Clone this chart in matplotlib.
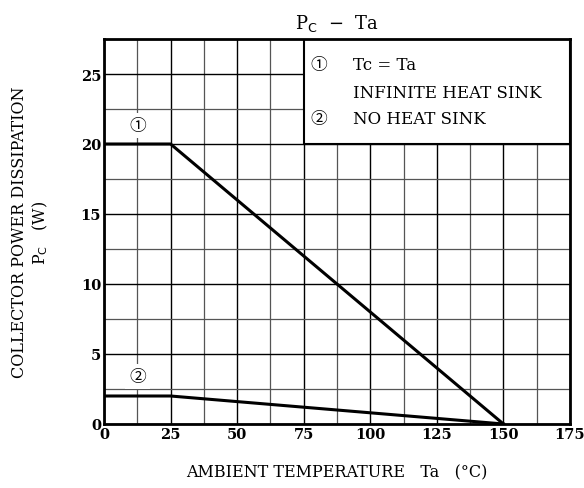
import matplotlib.pyplot as plt
from matplotlib.patches import Rectangle

ta = [0, 25, 150]
pc_infinite = [20, 20, 0]
pc_none = [2, 2, 0]
xticks = [0, 25, 50, 75, 100, 125, 150, 175]
yticks = [0, 5, 10, 15, 20, 25]

plt.rcParams['font.family'] = ['DejaVu Serif', 'Noto Sans CJK JP']
circ = ['Noto Sans CJK JP', 'DejaVu Serif']

fig = plt.figure(figsize=(5.84, 4.89), dpi=100)
ax = fig.add_axes([104/584, 1 - 425/489, 466/584, 385/489])
ax.set_xlim(0, 175)
ax.set_ylim(0, 27.5)

# grid: fine every 12.5 / 2.5, darker at labelled values
for x in range(0, 176, 25):
    ax.axvline(x, color='black', lw=1.0, zorder=1)
    ax.axvline(x + 12.5, color='#555555', lw=0.9, zorder=1)
for y in [0, 5, 10, 15, 20, 25]:
    ax.axhline(y, color='black', lw=1.0, zorder=1)
    ax.axhline(y + 2.5, color='#555555', lw=0.9, zorder=1)

ax.plot(ta, pc_infinite, color='black', lw=2.2, zorder=3)
ax.plot(ta, pc_none, color='black', lw=2.2, zorder=3)

# legend box
ax.add_patch(Rectangle((75, 20), 100, 7.5, facecolor='white', edgecolor='black',
                       lw=1.5, zorder=4))
ax.text(80.7, 25.7, '\u2460', fontsize=12, va='center', ha='center', zorder=5, family=circ)
ax.text(93.5, 25.7, 'Tc = Ta', fontsize=12, va='center', zorder=5)
ax.text(93.5, 23.7, 'INFINITE HEAT SINK', fontsize=12, va='center', zorder=5)
ax.text(80.7, 21.8, '\u2461', fontsize=12, va='center', ha='center', zorder=5, family=circ)
ax.text(93.5, 21.8, 'NO HEAT SINK', fontsize=12, va='center', zorder=5)

ax.text(12.5, 21.3, '\u2460', fontsize=12, ha='center', va='center', zorder=5, family=circ,
        bbox=dict(facecolor='white', edgecolor='none', pad=3))
ax.text(12.5, 3.4, '\u2461', fontsize=12, ha='center', va='center', zorder=5, family=circ,
        bbox=dict(facecolor='white', edgecolor='none', pad=3))

ax.set_xticks(xticks)
ax.set_yticks(yticks)
ax.tick_params(length=0, labelsize=10.5, pad=2)
for lab in ax.get_xticklabels() + ax.get_yticklabels():
    lab.set_fontweight('bold')
for s in ax.spines.values():
    s.set_linewidth(2)
    s.set_zorder(6)

ax.set_title('P$_\\mathrm{C}$  \u2212  Ta', fontsize=13, pad=8)
ax.set_xlabel('AMBIENT TEMPERATURE   Ta   (\u00b0C)', fontsize=11.5, labelpad=16)
ax.set_ylabel('COLLECTOR POWER DISSIPATION\nP$_\\mathrm{C}$   (W)', fontsize=11.5,
              labelpad=22, linespacing=1.2)

fig.savefig('out.png', dpi=100)
